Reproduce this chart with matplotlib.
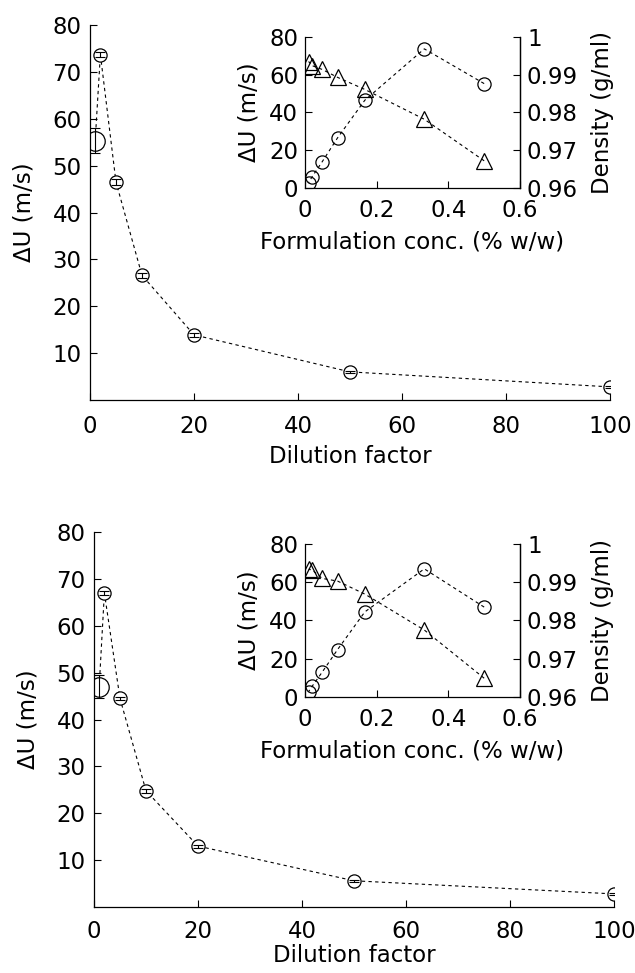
import numpy as np
import matplotlib.pyplot as plt
from matplotlib.ticker import FuncFormatter

plt.rcParams["font.family"] = ["DejaVu Sans"]
plt.rcParams["font.size"] = 16.5

dilution = [1, 2, 5, 10, 20, 50, 100]
conc = [0.5, 0.333, 0.167, 0.091, 0.048, 0.020, 0.010]

du_top = [55.3, 73.7, 46.5, 26.6, 13.9, 6.0, 2.8]
du_top_err = [2.7, 0.6, 0.6, 0.6, 0.4, 0.2, 0.2]
dens_top = [0.9672, 0.9782, 0.9861, 0.9893, 0.9914, 0.9924, 0.9935]

du_bot = [47.0, 67.0, 44.5, 24.8, 13.0, 5.6, 2.8]
du_bot_err = [2.5, 0.5, 0.3, 0.4, 0.3, 0.2, 0.2]
dens_bot = [0.9649, 0.9775, 0.9869, 0.9903, 0.9910, 0.9932, 0.9934]

main_yticks = [10, 20, 30, 40, 50, 60, 70, 80]
main_xticks = [0, 20, 40, 60, 80, 100]
inset_xticks = [0, 0.2, 0.4, 0.6]
inset_yticks = [0, 20, 40, 60, 80]
dens_ticks = [0.96, 0.97, 0.98, 0.99, 1.0]

LINE = dict(color="black", linestyle=(0, (3, 3)), linewidth=0.8)


def style_axes(ax, right=False):
    ax.spines["top"].set_visible(False)
    ax.spines["right"].set_visible(right)
    for s in ax.spines.values():
        s.set_linewidth(0.9)
    ax.tick_params(direction="in", length=5, width=0.8)
    ax.patch.set_alpha(0)


def fmt_num(v, pos):
    return f"{v:g}"


def draw_panel(fig, main_rect, inset_rect, du, du_err, dens, xlabel_pad, xtick_pad):
    ax = fig.add_axes(main_rect)
    ax.plot(dilution, du, zorder=1, **LINE)
    sizes = [14] + [9.5] * (len(dilution) - 1)
    for x, y, ms in zip(dilution, du, sizes):
        ax.plot([x], [y], marker="o", ms=ms, mfc="white", mec="black",
                mew=0.9, linestyle="none", zorder=2)
    ax.errorbar(dilution, du, yerr=du_err, fmt="none", ecolor="black",
                elinewidth=0.8, capsize=3.5, capthick=0.8, zorder=3)
    ax.set_xlim(0, 100)
    ax.set_ylim(0, 80)
    ax.set_xticks(main_xticks)
    ax.set_yticks(main_yticks)
    style_axes(ax)
    ax.tick_params(axis="x", pad=xtick_pad)
    ax.tick_params(axis="y", pad=6)
    ax.set_xlabel("Dilution factor", labelpad=xlabel_pad)
    ax.set_ylabel("ΔU (m/s)", labelpad=12)

    ins = fig.add_axes(inset_rect)
    ins.plot(conc, du, marker="o", ms=9.5, mfc="none", mec="black",
             mew=0.9, **LINE)
    ins.set_xlim(0, 0.6)
    ins.set_ylim(0, 80)
    ins.set_xticks(inset_xticks)
    ins.set_yticks(inset_yticks)
    ins.xaxis.set_major_formatter(FuncFormatter(fmt_num))
    style_axes(ins, right=True)
    ins.tick_params(axis="x", pad=8)
    ins.tick_params(axis="y", pad=5)
    ins.set_xlabel("Formulation conc. (% w/w)", labelpad=6)
    ins.set_ylabel("ΔU (m/s)", labelpad=6)

    ins2 = ins.twinx()
    ins2.plot(conc, dens, marker="^", ms=11, mfc="none", mec="black",
              mew=0.9, **LINE)
    ins2.set_ylim(0.96, 1.0)
    ins2.set_yticks(dens_ticks)
    ins2.yaxis.set_major_formatter(FuncFormatter(fmt_num))
    style_axes(ins2, right=True)
    ins2.spines["left"].set_visible(False)
    ins2.spines["bottom"].set_visible(False)
    ins2.tick_params(axis="y", pad=5)
    ins2.set_ylabel("Density (g/ml)", labelpad=9)


fig = plt.figure(figsize=(6.35, 9.73), dpi=100)
draw_panel(fig, [0.1417, 0.5889, 0.819, 0.3854], [0.4803, 0.8068, 0.3386, 0.1552],
           du_top, du_top_err, dens_top, 5, 11)
draw_panel(fig, [0.148, 0.0678, 0.819, 0.3854], [0.4803, 0.2837, 0.3386, 0.1572],
           du_bot, du_bot_err, dens_bot, 1, 9)

fig.savefig("out.png", dpi=100)
